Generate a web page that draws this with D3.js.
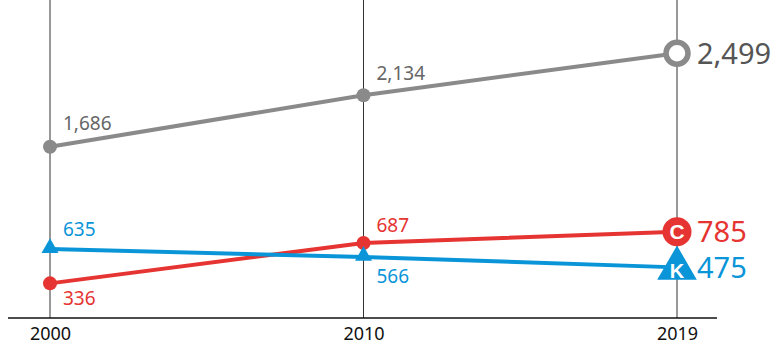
<!DOCTYPE html>
<html>
<head>
<meta charset="utf-8">
<script src="https://cdn.jsdelivr.net/npm/d3@7"></script>
<style>
  html, body { margin: 0; padding: 0; background: #fff; }
  svg { display: block; font-family: "Noto Sans", "DejaVu Sans", sans-serif; }
</style>
</head>
<body>
<svg id="chart" width="774" height="346"></svg>
<script>
const years = ["2000", "2010", "2019"];
const totalValues = [1686, 2134, 2499];
const cValues = [336, 687, 785];
const kValues = [635, 566, 475];
const endCodes = ["", "C", "K"];

const svg = d3.select("#chart");
const baseY = 318;

const x = d3.scalePoint().domain(years).range([50, 677]);
const y = d3.scaleLinear().domain([0, 2500]).range([322, 34.5]);
const yGray = d3.scaleLinear().domain([0, 2500]).range([340.6, 53.1]);

const GRAY = "#8a8a8a", RED = "#e53431", BLUE = "#0a95d8";

// vertical grid lines
svg.append("g").selectAll("line").data(years).join("line")
  .attr("x1", d => x(d)).attr("x2", d => x(d))
  .attr("y1", 0).attr("y2", baseY)
  .attr("stroke", "#333").attr("stroke-width", 1);

// x axis
const xAxis = d3.axisBottom(x).tickSize(0).tickPadding(9.5);
const ax = svg.append("g").attr("transform", `translate(0,${baseY})`).call(xAxis);
ax.select(".domain").remove();
ax.selectAll("text").attr("font-size", 18).attr("fill", "#111")
  .attr("font-family", "'Noto Sans', sans-serif");
svg.append("line").attr("x1", 8).attr("x2", 717).attr("y1", baseY).attr("y2", baseY)
  .attr("stroke", "#111").attr("stroke-width", 1.5);

const series = [
  { vals: totalValues, sc: yGray, color: GRAY, text: "#666", marker: "circle", offs: [-17, -15], endColor: "#555" },
  { vals: cValues, sc: y, color: RED, text: RED, marker: "circle", offs: [22, -11], endColor: RED },
  { vals: kValues, sc: y, color: BLUE, text: BLUE, marker: "triangle", offs: [-13, 26], endColor: BLUE }
];

series.forEach((s, si) => {
  const pts = years.map((yr, i) => [x(yr), s.sc(s.vals[i])]);
  svg.append("path").attr("d", d3.line()(pts))
    .attr("fill", "none").attr("stroke", s.color).attr("stroke-width", 4);

  pts.slice(0, 2).forEach((p, i) => {
    if (s.marker === "circle") {
      svg.append("circle").attr("cx", p[0]).attr("cy", p[1]).attr("r", 7).attr("fill", s.color);
    } else {
      svg.append("path").attr("d", d3.symbol(d3.symbolTriangle, 125)())
        .attr("transform", `translate(${p[0]},${p[1] - 1})`).attr("fill", s.color);
    }
    svg.append("text").attr("x", p[0] + 13).attr("y", p[1] + s.offs[i])
      .attr("font-size", 19).attr("fill", s.text)
      .text(d3.format(",")(s.vals[i]));
  });

  const e = pts[2];
  if (si === 0) {
    svg.append("circle").attr("cx", e[0]).attr("cy", e[1]).attr("r", 11)
      .attr("fill", "#fff").attr("stroke", s.color).attr("stroke-width", 5.5);
  } else if (s.marker === "circle") {
    svg.append("circle").attr("cx", e[0]).attr("cy", e[1]).attr("r", 14.5).attr("fill", s.color);
    svg.append("text").attr("x", e[0]).attr("y", e[1]).attr("dy", "0.36em")
      .attr("text-anchor", "middle").attr("font-size", 21).attr("font-weight", "bold")
      .attr("fill", "#fff").attr("font-family", "'Liberation Sans', Arial, sans-serif")
      .text(endCodes[si]);
  } else {
    svg.append("path").attr("d", d3.symbol(d3.symbolTriangle, 680)())
      .attr("transform", `translate(${e[0]},${e[1] + 1})`).attr("fill", s.color);
    svg.append("text").attr("x", e[0]).attr("y", e[1] + 3.5).attr("dy", "0.36em")
      .attr("text-anchor", "middle").attr("font-size", 20).attr("font-weight", "bold")
      .attr("fill", "#fff").attr("font-family", "'Liberation Sans', Arial, sans-serif")
      .text(endCodes[si]);
  }
  svg.append("text").attr("x", e[0] + 20).attr("y", e[1]).attr("dy", "0.36em")
    .attr("font-size", 29).attr("fill", s.endColor)
    .text(d3.format(",")(s.vals[2]));
});
</script>
</body>
</html>
